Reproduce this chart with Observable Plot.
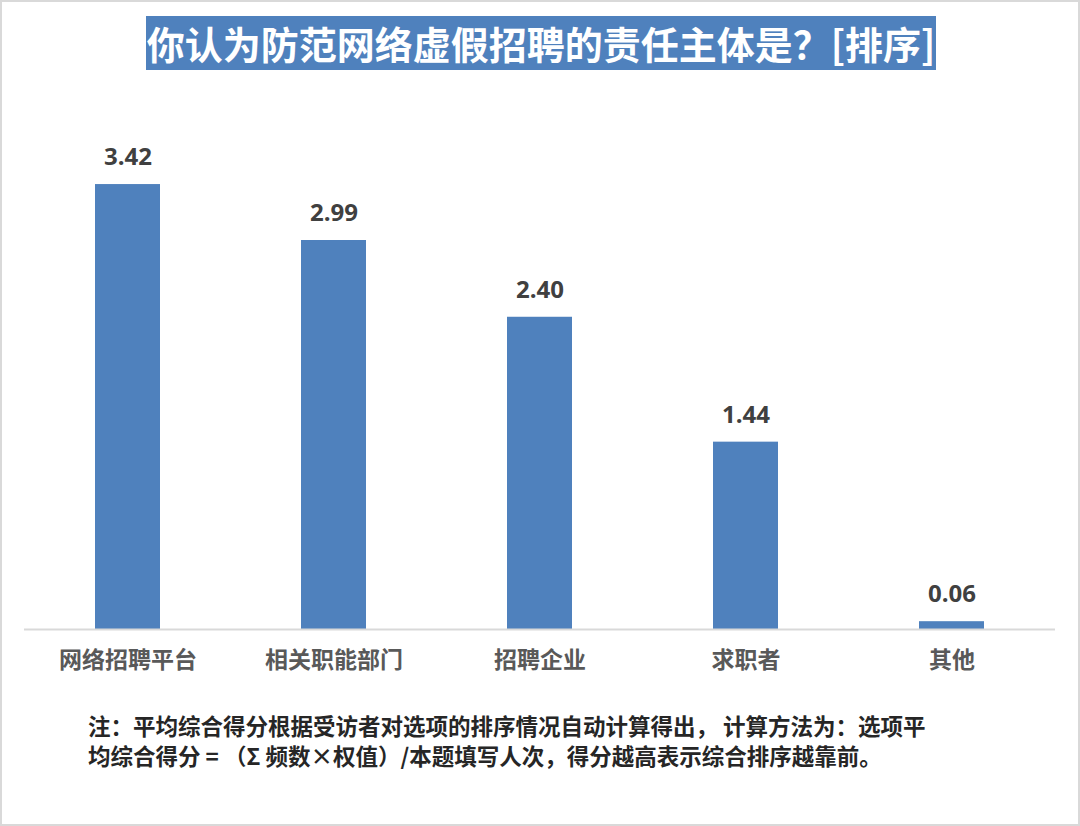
<!DOCTYPE html>
<html>
<head>
<meta charset="utf-8">
<script src="https://cdn.jsdelivr.net/npm/d3@7"></script>
<script src="https://cdn.jsdelivr.net/npm/@observablehq/plot@0.6"></script>
<style>
  html, body { margin: 0; padding: 0; background: #fff; }
  #wrap { position: relative; width: 1080px; height: 826px; overflow: hidden; background: #fff; }
  #chart { position: absolute; left: 0; top: 0; }
  #title { position: absolute; left: 146px; top: 16px; width: 790px; height: 54px;
    background: #4F81BD; color: #fff; font-family: "Noto Sans CJK SC", sans-serif; font-weight: 700;
    font-size: 38px; line-height: 54px; text-align: center; white-space: nowrap; letter-spacing: 0px; }
  #note { position: absolute; left: 88px; top: 710px; width: 960px;
    font-family: "Noto Sans CJK SC", sans-serif; font-weight: 700; font-size: 22.5px; line-height: 30px; color: #262626; white-space: nowrap; }
  #border { position: absolute; left: 0; top: 0; width: 1080px; height: 826px; box-sizing: border-box;
    border: 2px solid #d9d9d9; pointer-events: none; }
</style>
</head>
<body>
<div id="wrap">
  <div id="chart"></div>
  <div id="title"></div>
  <div id="note"></div>
  <div id="border"></div>
</div>
<script>
const titleText = "你认为防范网络虚假招聘的责任主体是？[排序]";
const categories = ["网络招聘平台", "相关职能部门", "招聘企业", "求职者", "其他"];
const scores = [3.42, 2.99, 2.40, 1.44, 0.06];
const noteLines = [
  "注：平均综合得分根据受访者对选项的排序情况自动计算得出， 计算方法为：选项平",
  "均综合得分 = （Σ 频数×权值）/本题填写人次，得分越高表示综合排序越靠前。"
];

const data = categories.map((c, i) => ({category: c, score: scores[i]}));

document.getElementById("title").textContent = titleText;
document.getElementById("note").innerHTML = noteLines.map(l => `<div>${l}</div>`).join("");

const chart = Plot.plot({
  width: 1080,
  height: 826,
  marginTop: 108.6,
  marginBottom: 197,
  marginLeft: 24,
  marginRight: 25,
  x: {domain: categories, paddingInner: 0.685, paddingOuter: 0.3425, axis: null},
  y: {domain: [0, 4], axis: null},
  marks: [
    Plot.barY(data, {x: "category", y: "score", fill: "#4F81BD"}),
    Plot.ruleY([0], {stroke: "#d9d9d9", strokeWidth: 2}),
    Plot.text(data, {x: "category", y: "score", text: d => d.score.toFixed(2), dy: -27,
      fontSize: 24, fontWeight: 700, fill: "#404040", fontFamily: "'Open Sans', 'Noto Sans', sans-serif"}),
    Plot.text(data, {x: "category", y: 0, text: "category", dy: 31,
      fontSize: 23, fontWeight: 700, fill: "#595959", fontFamily: "'Noto Sans CJK SC', sans-serif"})
  ]
});
document.getElementById("chart").appendChild(chart);
</script>
</body>
</html>
